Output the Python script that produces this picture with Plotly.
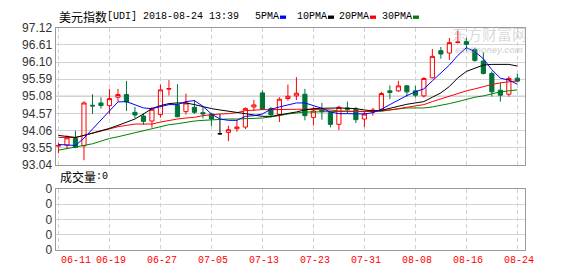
import plotly.graph_objects as go

# ---------------- data ----------------
dates = ["06-11","06-12","06-13","06-14","06-15","06-18","06-19","06-20","06-21","06-22",
         "06-25","06-26","06-27","06-28","06-29",
         "07-02","07-03","07-04","07-05","07-06","07-09","07-10","07-11","07-12","07-13",
         "07-16","07-17","07-18","07-19","07-20","07-23","07-24","07-25","07-26","07-27",
         "07-30","07-31",
         "08-01","08-02","08-03","08-06","08-07","08-08","08-09","08-10","08-13","08-14",
         "08-15","08-16","08-17","08-20","08-21","08-22","08-23","08-24"]

open_ = [93.59,93.62,93.82,93.60,94.81,94.88,94.80,95.05,95.13,94.60,
         94.49,94.34,94.53,95.29,94.82,94.62,94.75,94.59,94.55,93.96,
         94.00,94.11,94.16,94.76,95.18,94.71,94.53,95.01,95.09,95.14,
         94.45,94.67,94.59,94.24,94.73,94.69,94.40,94.61,94.69,95.24,
         95.24,95.39,95.24,95.09,95.63,96.44,96.37,96.68,96.71,96.47,
         96.13,95.76,95.26,95.14,95.62]
high = [93.69,93.91,94.05,94.93,95.14,95.05,95.30,95.30,95.54,94.76,
        94.57,94.76,95.43,95.56,95.44,95.16,94.97,94.76,94.56,94.55,
        94.20,94.36,94.75,94.97,95.26,94.76,95.05,95.43,95.65,95.30,
        94.76,94.88,94.61,94.80,94.92,94.76,94.63,94.73,95.21,95.40,
        95.54,95.41,95.39,95.65,96.49,96.55,96.82,97.04,96.82,96.53,
        96.39,95.82,95.49,95.68,95.75]
low = [93.38,93.50,93.53,93.17,94.55,94.71,94.55,94.92,94.64,94.43,
       94.23,94.14,94.44,95.10,94.45,94.53,94.55,94.42,94.19,93.93,
       93.74,94.02,94.10,94.64,94.67,94.45,94.31,94.95,94.97,94.36,
       94.21,94.38,94.15,94.07,94.56,94.28,94.16,94.50,94.67,94.99,
       95.21,95.07,95.04,95.04,95.61,96.20,96.16,96.66,96.44,96.11,
       95.73,95.07,94.92,95.07,95.49]
close = [93.61,93.84,93.55,94.88,94.79,94.80,95.01,95.13,94.91,94.52,
         94.33,94.69,95.27,95.31,94.47,94.88,94.60,94.55,94.40,93.96,
         94.08,94.16,94.71,94.82,94.69,94.53,94.99,95.08,95.17,94.50,
         94.64,94.62,94.24,94.75,94.69,94.38,94.55,94.67,95.16,95.19,
         95.39,95.21,95.11,95.61,96.27,96.34,96.68,96.70,96.63,96.15,
         95.76,95.21,95.11,95.61,95.53]

ma5 = [93.64,93.63,93.61,93.83,94.10,94.37,94.65,94.91,94.92,94.83,
       94.73,94.71,94.76,94.83,94.83,94.92,94.95,94.78,94.55,94.40,
       94.36,94.36,94.48,94.50,94.55,94.69,94.76,94.83,94.88,94.88,
       94.80,94.72,94.61,94.56,94.56,94.56,94.55,94.59,94.69,94.83,
       94.97,95.10,95.21,95.30,95.54,95.78,96.01,96.30,96.53,96.41,
       96.20,95.87,95.62,95.56,95.44]
ma10 = [93.91,93.87,93.85,93.91,93.98,94.04,94.12,94.21,94.31,94.40,
        94.55,94.71,94.80,94.86,94.88,94.88,94.83,94.76,94.71,94.67,
        94.64,94.61,94.56,94.52,94.48,94.48,94.52,94.55,94.61,94.67,
        94.71,94.72,94.73,94.73,94.72,94.71,94.67,94.64,94.66,94.71,
        94.78,94.84,94.88,94.92,95.05,95.18,95.37,95.63,95.82,95.92,
        96.01,96.03,96.03,96.03,95.98]
ma20 = [93.85,93.85,93.85,93.91,93.98,94.04,94.10,94.17,94.21,94.25,
        94.25,94.25,94.31,94.36,94.40,94.43,94.45,94.50,94.53,94.55,
        94.56,94.59,94.65,94.67,94.68,94.68,94.69,94.69,94.69,94.69,
        94.69,94.69,94.67,94.64,94.63,94.62,94.62,94.63,94.64,94.67,
        94.71,94.75,94.80,94.83,94.92,95.00,95.09,95.16,95.24,95.30,
        95.37,95.43,95.48,95.52,95.54]
ma30 = [93.47,93.52,93.55,93.60,93.66,93.74,93.82,93.87,93.93,94.00,
        94.05,94.10,94.17,94.23,94.26,94.31,94.34,94.36,94.38,94.40,
        94.40,94.40,94.40,94.42,94.43,94.46,94.50,94.55,94.59,94.61,
        94.61,94.62,94.63,94.63,94.63,94.63,94.63,94.62,94.63,94.67,
        94.71,94.73,94.73,94.73,94.76,94.80,94.86,94.92,94.99,95.05,
        95.09,95.16,95.21,95.24,95.27]

tick_dates = ["06-11","06-19","06-27","07-05","07-13","07-23","07-31","08-08","08-16","08-24"]
y_ticks = [93.04,93.55,94.06,94.57,95.08,95.59,96.10,96.61,97.12]
ref_level = 95.08
vol_ticks = [0,1,2,3,4]
vol_labels = ["0","0","0","0","0"]

title_cn = "美元指数"
title_rest = "[UDI] 2018-08-24 13:39"
ma_names = ["5PMA","10PMA","20PMA","30PMA"]
ma_colors = ["#0000ff","#000000","#ff0000","#008000"]
vol_title_cn = "成交量"
vol_title_rest = ":0"
wm_cn = "东方财富网"
wm_en = "eastmoney.com"

# ---------------- figure ----------------
W, H = 578, 276
idx = list(range(len(dates)))
tick_idx = [dates.index(d) for d in tick_dates]

RED = "#ff0000"
GREEN = "#00733a"
GRID = "#d2d2d2"
FRAME = "#9a9a9a"

fig = go.Figure()

norm = [i for i in idx if open_[i] != close[i]]
doji = [i for i in idx if open_[i] == close[i]]

fig.add_trace(go.Candlestick(
    x=norm, open=[open_[i] for i in norm], high=[high[i] for i in norm],
    low=[low[i] for i in norm], close=[close[i] for i in norm],
    increasing=dict(line=dict(color=RED, width=1), fillcolor="rgba(255,255,255,0)"),
    decreasing=dict(line=dict(color=GREEN, width=1), fillcolor=GREEN),
    whiskerwidth=0, xaxis="x", yaxis="y", hoverinfo="skip"))
if doji:
    fig.add_trace(go.Candlestick(
        x=doji, open=[open_[i] for i in doji], high=[high[i] for i in doji],
        low=[low[i] for i in doji], close=[close[i] for i in doji],
        increasing=dict(line=dict(color="#000000", width=1), fillcolor="#000000"),
        decreasing=dict(line=dict(color="#000000", width=1), fillcolor="#000000"),
        whiskerwidth=0, xaxis="x", yaxis="y", hoverinfo="skip"))

for vals, col in zip([ma30, ma20, ma10, ma5], ma_colors[::-1]):
    fig.add_trace(go.Scatter(x=idx, y=vals, mode="lines",
                             line=dict(color=col, width=1), xaxis="x", yaxis="y",
                             hoverinfo="skip"))

# empty volume panel trace (keeps axis alive)
fig.add_trace(go.Scatter(x=[idx[0]], y=[0], mode="markers", marker=dict(opacity=0),
                         xaxis="x2", yaxis="y2", hoverinfo="skip"))

xr = [-0.35, 54.9]
xdom = [55.5 / W, 525 / W]
ydom_main = [1 - 166 / H, 1 - 22 / H]
ydom_vol = [1 - 256 / H, 1 - 191.7 / H]

axis_common = dict(showline=True, linecolor=FRAME, linewidth=1, mirror=True,
                   zeroline=False, fixedrange=True)

fig.update_layout(
    width=W, height=H, margin=dict(l=0, r=0, t=0, b=0),
    paper_bgcolor="white", plot_bgcolor="white", showlegend=False,
    boxgap=0.3,
    xaxis=dict(domain=xdom, range=xr, tickvals=tick_idx, showticklabels=False,
               showgrid=True, gridcolor=GRID, griddash="4px,3px", gridwidth=1,
               rangeslider=dict(visible=False), anchor="y", **axis_common),
    yaxis=dict(domain=ydom_main, range=[y_ticks[0], y_ticks[-1]], tickvals=y_ticks,
               ticktext=["%.2f" % v for v in y_ticks], showgrid=True, gridcolor=GRID,
               tickfont=dict(family="Liberation Sans, Arial", size=12, color="#333333"),
               ticks="", anchor="x", **axis_common),
    xaxis2=dict(domain=xdom, range=xr, tickvals=tick_idx, showticklabels=False,
                showgrid=True, gridcolor=GRID, griddash="4px,3px", gridwidth=1,
                anchor="y2", **axis_common),
    yaxis2=dict(domain=ydom_vol, range=[vol_ticks[0], vol_ticks[-1]], tickvals=vol_ticks,
                ticktext=vol_labels, showgrid=True, gridcolor=GRID,
                tickfont=dict(family="Liberation Sans, Arial", size=12, color="#333333"),
                ticks="", anchor="x2", **axis_common),
)

# reference (darker) line
fig.add_shape(type="line", xref="x", yref="y", x0=xr[0], x1=xr[1], y0=ref_level, y1=ref_level,
              line=dict(color="#a0a0a0", width=1), layer="below")

ann = []
# watermark
ann.append(dict(text=wm_cn, x=489 / W, y=1 - 28 / H, xref="paper", yref="paper",
                showarrow=False, font=dict(family="Noto Sans CJK SC", size=15,
                                           color="rgba(170,170,170,0.45)"),
                xanchor="center", yanchor="middle"))
ann.append(dict(text="<i><b>" + wm_en + "</b></i>", x=489 / W, y=1 - 45 / H, xref="paper",
                yref="paper", showarrow=False,
                font=dict(family="Liberation Sans", size=9, color="rgba(170,170,170,0.45)"),
                xanchor="center", yanchor="middle"))
# title
ann.append(dict(text=title_cn, x=57 / W, y=1 - 10 / H, xref="paper", yref="paper",
                showarrow=False, xanchor="left", yanchor="middle",
                font=dict(family="Noto Sans CJK SC", size=12, color="#000000")))
ann.append(dict(text=title_rest, x=105 / W, y=1 - 10 / H, xref="paper", yref="paper",
                showarrow=False, xanchor="left", yanchor="middle",
                font=dict(family="Liberation Mono", size=10, color="#000000")))
# legend
leg_x = [253, 295, 337, 380]
for name, col, lx in zip(ma_names, ma_colors, leg_x):
    ann.append(dict(text=name, x=lx / W, y=1 - 10 / H, xref="paper", yref="paper",
                    showarrow=False, xanchor="left", yanchor="middle",
                    font=dict(family="Liberation Mono", size=10, color="#000000")))
    x0 = lx + 6 * len(name) + 3
    fig.add_shape(type="rect", xref="paper", yref="paper", x0=x0 / W, x1=(x0 + 6) / W,
                  y0=1 - 12.5 / H, y1=1 - 9 / H, fillcolor=col, line=dict(width=0))
# volume label
ann.append(dict(text=vol_title_cn, x=58 / W, y=1 - 178.5 / H, xref="paper", yref="paper",
                showarrow=False, xanchor="left", yanchor="middle",
                font=dict(family="Noto Sans CJK SC", size=12, color="#000000")))
ann.append(dict(text=vol_title_rest, x=94 / W, y=1 - 178.5 / H, xref="paper", yref="paper",
                showarrow=False, xanchor="left", yanchor="middle",
                font=dict(family="Liberation Mono", size=10, color="#000000")))
# x date labels
for k, (ti, td) in enumerate(zip(tick_idx, tick_dates)):
    if k == 0:
        ann.append(dict(text=td, x=ti, xref="x2", y=1 - 267 / H, yref="paper",
                        showarrow=False, xanchor="left", yanchor="middle", xshift=1,
                        font=dict(family="Liberation Mono", size=10, color=RED)))
    else:
        ann.append(dict(text=td, x=ti, xref="x2", y=1 - 267 / H, yref="paper",
                        showarrow=False, xanchor="center", yanchor="middle", xshift=1.5,
                        font=dict(family="Liberation Mono", size=10, color=RED)))

fig.update_layout(annotations=ann)
fig.write_html("out.html")
